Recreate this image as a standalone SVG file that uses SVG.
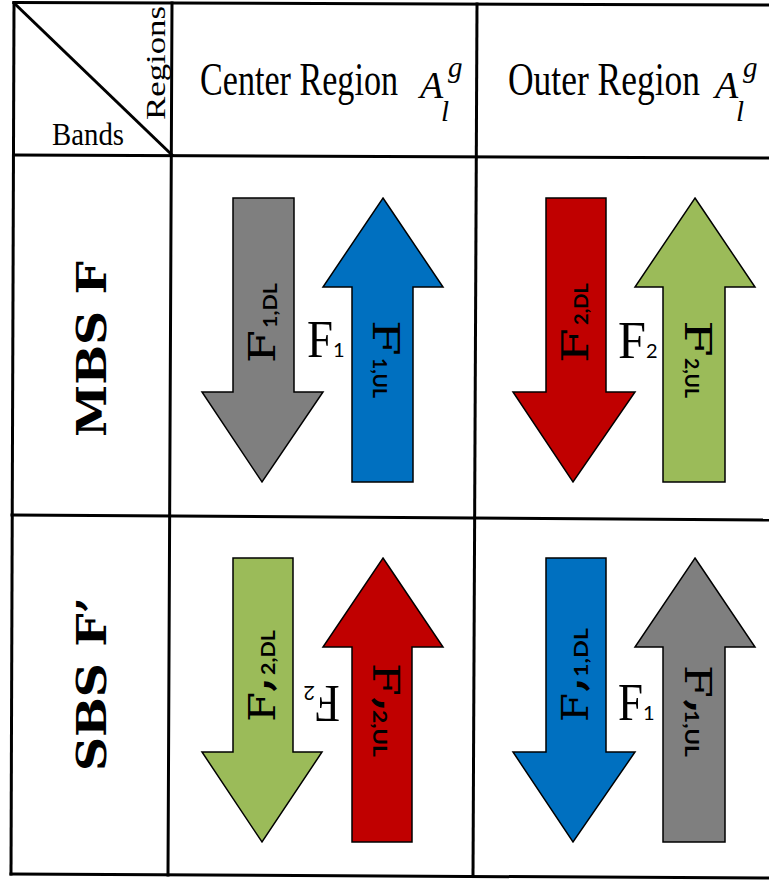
<svg xmlns="http://www.w3.org/2000/svg" width="769" height="881" viewBox="0 0 769 881">
<style>
.grid line{stroke:#000;stroke-width:3;stroke-linecap:square}
.hdr{font-family:"Liberation Serif",serif;fill:#000}
.row{font-family:"DejaVu Serif","Liberation Serif",serif;font-weight:bold;font-size:41px;fill:#000}
.arr{stroke:#000;stroke-width:1.5;stroke-linejoin:miter}
.fa{font-family:"DejaVu Serif","Liberation Serif",serif;font-size:38px;fill:#000}
.ap{font-family:"DejaVu Serif","Liberation Serif",serif;font-weight:bold;font-size:44px;fill:#000}
.sub{font-family:Lato,"Liberation Sans",sans-serif;font-weight:bold;font-size:18px;fill:#000}
.fm{font-family:"Liberation Serif",serif;font-size:52px;fill:#000}
.sm{font-family:Lato,"Liberation Sans",sans-serif;font-size:20px;fill:#000}
.gray{fill:#7f7f7f}.blue{fill:#0070c0}.red{fill:#c00000}.green{fill:#9bbb59}
</style>
<rect width="769" height="881" fill="#fff"/>
<g id="grid" class="grid">
<line x1="14" y1="2.5" x2="769" y2="5"/>
<line x1="14" y1="155" x2="769" y2="158"/>
<line x1="12" y1="515" x2="769" y2="520"/>
<line x1="11" y1="874" x2="769" y2="878"/>
<line x1="14" y1="2.5" x2="11" y2="874"/>
<line x1="172" y1="3" x2="168" y2="875"/>
<line x1="477" y1="4" x2="473" y2="876"/>
<line x1="14" y1="3" x2="172" y2="155"/>
</g>
<g id="corner" class="hdr">
<text x="52" y="145" font-size="32" textLength="72" lengthAdjust="spacingAndGlyphs">Bands</text>
<text transform="translate(165,120) rotate(-90)" font-size="28" textLength="114" lengthAdjust="spacingAndGlyphs">Regions</text>
</g>
<g id="hdr-center" class="hdr">
<text x="200" y="95" font-size="46" textLength="198" lengthAdjust="spacingAndGlyphs">Center Region</text>
<text font-style="italic"><tspan x="420" y="98" font-size="38">A</tspan><tspan x="448" y="77" font-size="29">g</tspan><tspan x="441" y="121" font-size="29">l</tspan></text>
</g>
<g id="hdr-outer" class="hdr">
<text x="508" y="95" font-size="46" textLength="192" lengthAdjust="spacingAndGlyphs">Outer Region</text>
<text font-style="italic"><tspan x="715" y="98" font-size="38">A</tspan><tspan x="743" y="77" font-size="29">g</tspan><tspan x="736" y="121" font-size="29">l</tspan></text>
</g>
<g id="row-mbs">
<text class="row" transform="translate(106,437) rotate(-90)" textLength="176" lengthAdjust="spacingAndGlyphs">MBS F</text>
</g>
<g id="row-sbs">
<text class="row" transform="translate(106,771) rotate(-90)" textLength="174" lengthAdjust="spacingAndGlyphs">SBS F’</text>
</g>
<g id="mbs-center">
<polygon class="arr gray" points="233,198 294,198 294,392 323,392 262,482 202,392 233,392"/>
<polygon class="arr blue" points="383,198 443,287 413,287 413,482 352,482 352,287 323,287"/>
<g transform="translate(275,363) rotate(-90)">
<text class="fa" textLength="33" lengthAdjust="spacingAndGlyphs">F</text>
<text class="sub" x="35" y="2" textLength="45" lengthAdjust="spacingAndGlyphs">1,DL</text>
</g>
<g transform="translate(373,320) rotate(90)">
<text class="fa" textLength="36" lengthAdjust="spacingAndGlyphs">F</text>
<text class="sub" x="38" y="0" textLength="40" lengthAdjust="spacingAndGlyphs">1,UL</text>
</g>
<text class="fm" x="307" y="357" textLength="26" lengthAdjust="spacingAndGlyphs">F</text>
<text class="sm" x="333" y="357">1</text>
</g>
<g id="mbs-outer">
<polygon class="arr red" points="546,198 606,198 606,392 635,392 573,482 513,392 546,392"/>
<polygon class="arr green" points="695,198 755,287 725,287 725,482 663,482 663,287 635,287"/>
<g transform="translate(588,363) rotate(-90)">
<text class="fa" textLength="35" lengthAdjust="spacingAndGlyphs">F</text>
<text class="sub" x="38" y="0" textLength="42" lengthAdjust="spacingAndGlyphs">2,DL</text>
</g>
<g transform="translate(685,320) rotate(90)">
<text class="fa" textLength="37" lengthAdjust="spacingAndGlyphs">F</text>
<text class="sub" x="38" y="0" textLength="40" lengthAdjust="spacingAndGlyphs">2,UL</text>
</g>
<text class="fm" x="618" y="358" textLength="28" lengthAdjust="spacingAndGlyphs">F</text>
<text class="sm" x="646" y="358">2</text>
</g>
<g id="sbs-center">
<polygon class="arr green" points="233,558 293,558 293,752 322,752 262,842 202,752 233,752"/>
<polygon class="arr red" points="383,558 443,647 412,647 412,842 352,842 352,647 323,647"/>
<g transform="translate(275,722) rotate(-90)">
<text class="fa" textLength="30" lengthAdjust="spacingAndGlyphs">F</text>
<text class="ap" x="29" y="22">’</text>
<text class="sub" x="47" y="0" textLength="45" lengthAdjust="spacingAndGlyphs">2,DL</text>
</g>
<g transform="translate(373,663) rotate(90)">
<text class="fa" textLength="33" lengthAdjust="spacingAndGlyphs">F</text>
<text class="ap" x="33" y="22">’</text>
<text class="sub" x="47" y="0" textLength="47" lengthAdjust="spacingAndGlyphs">2,UL</text>
</g>
<g transform="translate(340,686) rotate(180)">
<text class="fm" textLength="25" lengthAdjust="spacingAndGlyphs">F</text>
<text class="sm" x="25">2</text>
</g>
</g>
<g id="sbs-outer">
<polygon class="arr blue" points="546,558 606,558 606,752 635,752 573,842 513,752 546,752"/>
<polygon class="arr gray" points="695,558 755,647 725,647 725,842 663,842 663,647 635,647"/>
<g transform="translate(588,722) rotate(-90)">
<text class="fa" textLength="29" lengthAdjust="spacingAndGlyphs">F</text>
<text class="ap" x="29" y="22">’</text>
<text class="sub" x="45" y="0" textLength="49" lengthAdjust="spacingAndGlyphs">1,DL</text>
</g>
<g transform="translate(685,665) rotate(90)">
<text class="fa" textLength="33" lengthAdjust="spacingAndGlyphs">F</text>
<text class="ap" x="33" y="22">’</text>
<text class="sub" x="45" y="0" textLength="47" lengthAdjust="spacingAndGlyphs">1,UL</text>
</g>
<text class="fm" x="618" y="720" textLength="25" lengthAdjust="spacingAndGlyphs">F</text>
<text class="sm" x="643" y="720">1</text>
</g>
</svg>
